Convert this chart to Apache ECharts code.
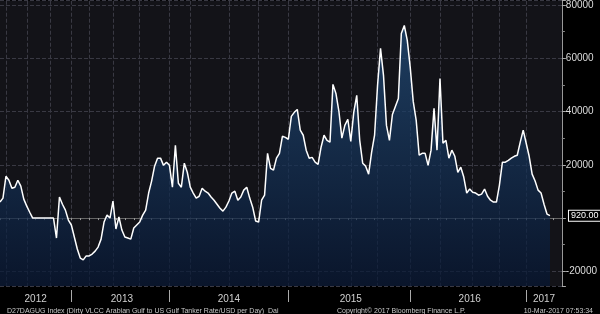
<!DOCTYPE html>
<html><head><meta charset="utf-8">
<script src="https://cdn.jsdelivr.net/npm/echarts@6/dist/echarts.min.js"></script>
<style>html,body{margin:0;padding:0;background:#000}#c{width:600px;height:314px}</style>
</head><body><div id="c"></div>
<script>
// Year labels and the samples in each year (D27DAGUG Index, USD per day)
const yearLabels = ['2012', '2013', '2014', '2015', '2016', '2017'];
const v2012 = [6000, 7500, 15700, 14200, 11200, 11600, 14200, 12000, 7100, 4500, 2200, 0, 0, 0, 0, 0, 0, 0, 0, -7500, 7900, 5200, 3000, -750];
const v2013 = [-2600, -7100, -11600, -15000, -15700, -14200, -14200, -13500, -12400, -10900, -7900, -1500, 1100, 0, 6400, -4100, 400, -4500, -7100, -7500, -7900, -3700, -2600, -1500, 1100, 3000, 9400, 13900, 19500, 22500, 22500, 19800, 21000];
const v2014 = [19800, 11600, 27300, 13100, 11600, 20600, 17200, 11600, 9400, 7500, 8200, 11200, 10100, 9400, 7900, 6700, 5200, 3700, 2600, 4100, 6400, 9400, 10100, 6700, 7900, 10500, 11600, 7500, 4100, -1100, -1500, 6700, 8600, 24300, 18700, 18000, 22500, 24300, 30700, 30300];
const v2015 = [29600, 38200, 39700, 40800, 33000, 31100, 25500, 22500, 22800, 21000, 20200, 26600, 31100, 29200, 28500, 50200, 46800, 40100, 30000, 34800, 37100, 28800, 39700, 46100, 29200, 20600, 19500, 16500, 24700, 31100, 49800, 63700, 53600, 34800, 29200, 38900, 41900, 44900, 69300, 72300, 66700];
const v2016 = [56500, 43800, 36700, 23600, 24300, 24300, 19800, 25500, 41200, 25500, 52400, 28100, 29200, 22500, 25500, 23200, 17200, 19100, 15400, 9400, 10900, 9700, 9400, 8600, 9000, 10900, 8200, 6700, 6000, 6000, 12400, 21000, 21000, 21700, 22500, 23200, 23600, 28500, 33000];
const v2017 = [28100, 23200, 16500, 13900, 10500, 9400, 5200, 1500, 920];
const emptyAfterLast = 4;              // empty room to the right of the last value
const quarterStarts = [2, 9, 17, 24, 30, 38, 47, 57, 64, 77, 87, 97, 107, 118, 127, 138, 148, 159, 168, 177];
const footLeft = 'D27DAGUG Index (Dirty VLCC Arabian Gulf to US Gulf Tanker Rate/USD per Day)  Dai';
const footMid = 'Copyright\u00A9 2017 Bloomberg Finance L.P.';
const footRight = '10-Mar-2017 07:53:34';

const perYear = [v2012, v2013, v2014, v2015, v2016, v2017];
const categories = [];
const values = [];
const yearStarts = [];
perYear.forEach((arr, y) => {
  yearStarts.push(categories.length);
  const n = arr.length + (y === perYear.length - 1 ? emptyAfterLast : 0);
  for (let k = 0; k < n; k++) categories.push(yearLabels[y] + '-' + (k + 1));
  arr.forEach(v => values.push(v));
});
const lastIdx = categories.length - 1;
const labelIdx = yearStarts.map((s, i) => Math.round((s + (i + 1 < yearStarts.length ? yearStarts[i + 1] : lastIdx)) / 2));
const sepIdx = yearStarts.slice(1);

const chart = echarts.init(document.getElementById('c'), null, {renderer: 'canvas'});
const FONT = 'Liberation Sans, Arial, sans-serif';
chart.setOption({
  animation: false,
  backgroundColor: '#000',
  title: [
    {text: footLeft, left: 2, top: 303, textStyle: {fontSize: 7, color: '#c8c8c8', fontWeight: 'normal', fontFamily: FONT}},
    {text: footMid, left: 332, top: 303, textStyle: {fontSize: 7, color: '#c8c8c8', fontWeight: 'normal', fontFamily: FONT}},
    {text: footRight, right: 2, top: 303, textStyle: {fontSize: 7, color: '#c8c8c8', fontWeight: 'normal', fontFamily: FONT}}
  ],
  grid: {left: 0, right: 34, top: 0, bottom: 28, show: true, backgroundColor: '#131318', borderWidth: 0},
  xAxis: [{
    type: 'category', data: categories, boundaryGap: false,
    axisLine: {show: true, lineStyle: {color: '#666'}},
    axisTick: {show: true, length: 2, interval: i => i % 3 === 0, lineStyle: {color: '#999'}},
    axisLabel: {interval: i => labelIdx.includes(i), formatter: v => v.split('-')[0], color: '#d0d0d0', fontSize: 10, margin: 8, fontFamily: FONT},
    splitLine: {show: true, interval: i => quarterStarts.includes(i), lineStyle: {color: '#393943', type: 'dashed', width: 1}}
  }, {
    type: 'category', data: categories, boundaryGap: false, position: 'bottom', offset: 4,
    axisLine: {show: false},
    axisTick: {show: true, length: 12, interval: i => sepIdx.includes(i), lineStyle: {color: '#aaa'}},
    axisLabel: {show: false},
    splitLine: {show: false}
  }],
  yAxis: {
    type: 'value', position: 'right', min: -25500, max: 81600, splitNumber: 5,
    axisLine: {show: true, lineStyle: {color: '#999'}},
    axisTick: {show: true, length: 4, lineStyle: {color: '#aaa'}},
    minorTick: {show: true, splitNumber: 2, length: 3, lineStyle: {color: '#888'}},
    axisLabel: {color: '#dcdcdc', fontSize: 10, margin: 4, fontFamily: FONT, showMinLabel: false, showMaxLabel: false,
      formatter: v => v === 0 ? '' : String(v)},
    splitLine: {show: true, lineStyle: {color: '#393943', type: 'dashed', width: 1}}
  },
  series: [{
    type: 'line', data: values, xAxisIndex: 0, showSymbol: false, symbol: 'none',
    lineStyle: {color: '#ffffff', width: 1.5},
    areaStyle: {origin: 'start', color: new echarts.graphic.LinearGradient(0, 0, 0, 1, [
      {offset: 0, color: '#23507f'}, {offset: 1, color: '#061633'}])},
    endLabel: {show: true, offset: [11, 0], formatter: p => Number(Array.isArray(p.value) ? p.value[1] : p.value).toFixed(2),
      color: '#fff', fontSize: 9, fontFamily: FONT, backgroundColor: '#000', borderColor: '#fff', borderWidth: 1, padding: [1, 2, 0, 2]}
  }]
});
</script></body></html>
